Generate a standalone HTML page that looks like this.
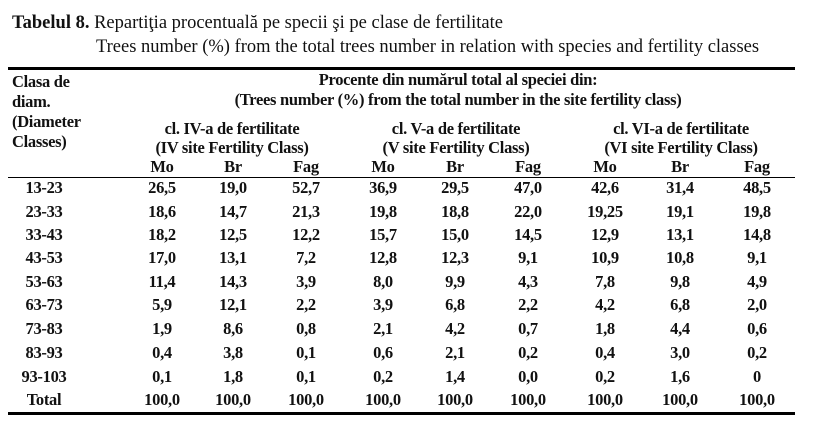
<!DOCTYPE html>
<html><head><meta charset="utf-8"><style>
body{margin:0;width:814px;height:427px;background:#fff;position:relative;overflow:hidden;font-family:"Liberation Serif",serif;color:#111}
.t{position:absolute;white-space:nowrap;line-height:1}
.c{position:absolute;white-space:nowrap;line-height:1;transform:translate(-50%,-50%);font-weight:bold;font-size:16.5px;letter-spacing:-0.3px}
.l{position:absolute;background:#000;left:8px;width:787px}
</style></head><body>
<div class="t" style="left:12px;top:14px;font-size:18.5px"><b>Tabelul 8.</b> Repartiţia procentuală pe specii şi pe clase de fertilitate</div>
<div class="t" style="left:96px;top:38px;font-size:18.5px">Trees number (%) from the total trees number in relation with species and fertility classes</div>
<div class="l" style="top:67px;height:3px"></div>
<div class="t" style="left:12px;top:72px;font-size:16.5px;font-weight:bold;line-height:20px;letter-spacing:-0.3px">Clasa de<br>diam.<br>(Diameter<br>Classes)</div>
<div class="c" style="left:458px;top:80px">Procente din numărul total al speciei din:</div>
<div class="c" style="left:458px;top:100px">(Trees number (%) from the total number in the site fertility class)</div>
<div class="c" style="left:232px;top:129px">cl. IV-a de fertilitate</div>
<div class="c" style="left:232px;top:148px">(IV site Fertility Class)</div>
<div class="c" style="left:456px;top:129px">cl. V-a de fertilitate</div>
<div class="c" style="left:456px;top:148px">(V site Fertility Class)</div>
<div class="c" style="left:681px;top:129px">cl. VI-a de fertilitate</div>
<div class="c" style="left:681px;top:148px">(VI site Fertility Class)</div>
<div class="l" style="top:177px;height:1px"></div>
<div class="l" style="top:412px;height:3px"></div>
<div id="g"></div>
<script>
var xs=[44,162,233,306,383,455,528,605,680,757];
var ys=[188,212,235,258,282,305,329,353,377,400];
var h=["","Mo","Br","Fag","Mo","Br","Fag","Mo","Br","Fag"];
var d=[
["13-23","26,5","19,0","52,7","36,9","29,5","47,0","42,6","31,4","48,5"],
["23-33","18,6","14,7","21,3","19,8","18,8","22,0","19,25","19,1","19,8"],
["33-43","18,2","12,5","12,2","15,7","15,0","14,5","12,9","13,1","14,8"],
["43-53","17,0","13,1","7,2","12,8","12,3","9,1","10,9","10,8","9,1"],
["53-63","11,4","14,3","3,9","8,0","9,9","4,3","7,8","9,8","4,9"],
["63-73","5,9","12,1","2,2","3,9","6,8","2,2","4,2","6,8","2,0"],
["73-83","1,9","8,6","0,8","2,1","4,2","0,7","1,8","4,4","0,6"],
["83-93","0,4","3,8","0,1","0,6","2,1","0,2","0,4","3,0","0,2"],
["93-103","0,1","1,8","0,1","0,2","1,4","0,0","0,2","1,6","0"],
["Total","100,0","100,0","100,0","100,0","100,0","100,0","100,0","100,0","100,0"]];
var s="";
for(var j=1;j<10;j++)s+='<div class="c" style="left:'+xs[j]+'px;top:167px">'+h[j]+'</div>';
for(var i=0;i<10;i++)for(var j=0;j<10;j++)s+='<div class="c" style="left:'+xs[j]+'px;top:'+ys[i]+'px">'+d[i][j]+'</div>';
document.getElementById("g").innerHTML=s;
</script>
</body></html>
